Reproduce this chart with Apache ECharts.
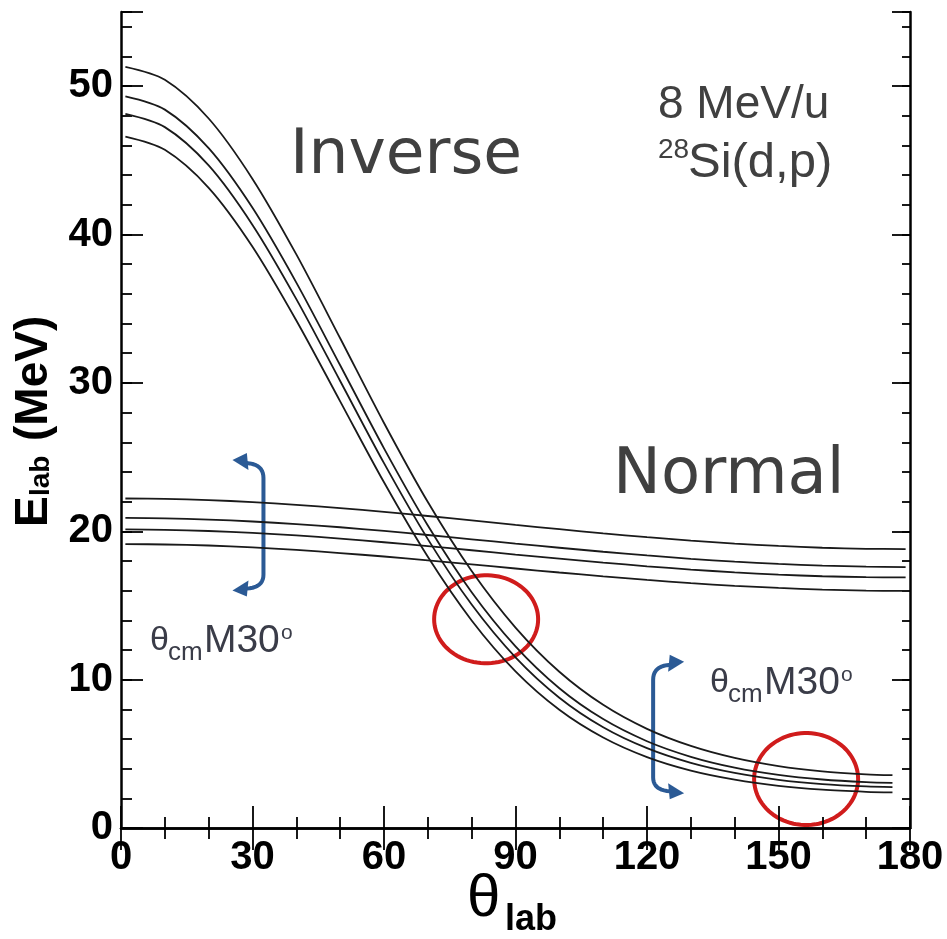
<!DOCTYPE html>
<html><head><meta charset="utf-8">
<script src="https://cdn.jsdelivr.net/npm/echarts@6/dist/echarts.min.js"></script>
<style>html,body{margin:0;padding:0;background:#fff}#c{width:947px;height:939px}</style>
</head><body><div id="c"></div>
<script>
// ---- data ----
const thetaInv = [1, 10, 20, 30, 40, 50, 60, 70, 80, 90, 100, 110, 120, 130, 140, 150, 160, 170, 176];
const inverse1 = [51.30, 50.43, 47.82, 43.75, 38.66, 33.01, 27.30, 21.97, 17.32, 13.51, 10.53, 8.30, 6.68, 5.53, 4.72, 4.17, 3.82, 3.62, 3.56];
const inverse2 = [49.31, 48.42, 45.82, 41.80, 36.76, 31.19, 25.59, 20.39, 15.89, 12.24, 9.42, 7.34, 5.85, 4.80, 4.07, 3.58, 3.27, 3.09, 3.04];
const inverse3 = [48.13, 47.24, 44.66, 40.65, 35.65, 30.13, 24.59, 19.47, 15.06, 11.50, 8.78, 6.79, 5.38, 4.39, 3.71, 3.25, 2.96, 2.80, 2.76];
const inverse4 = [46.60, 45.71, 43.15, 39.18, 34.21, 28.76, 23.30, 18.28, 13.99, 10.56, 7.97, 6.10, 4.78, 3.87, 3.26, 2.84, 2.58, 2.44, 2.40];

const thetaNorm = [1, 10, 20, 30, 40, 50, 60, 70, 80, 90, 100, 110, 120, 130, 140, 150, 160, 170, 179];
const normal1 = [22.21, 22.18, 22.10, 21.97, 21.78, 21.56, 21.31, 21.03, 20.73, 20.43, 20.14, 19.86, 19.60, 19.37, 19.17, 19.01, 18.89, 18.82, 18.80];
const normal2 = [20.90, 20.87, 20.79, 20.66, 20.48, 20.27, 20.02, 19.75, 19.46, 19.17, 18.89, 18.62, 18.37, 18.14, 17.95, 17.80, 17.68, 17.62, 17.59];
const normal3 = [20.13, 20.10, 20.02, 19.89, 19.72, 19.51, 19.26, 19.00, 18.72, 18.43, 18.16, 17.89, 17.64, 17.42, 17.23, 17.08, 16.97, 16.91, 16.89];
const normal4 = [19.14, 19.11, 19.04, 18.91, 18.74, 18.53, 18.30, 18.04, 17.77, 17.49, 17.22, 16.96, 16.72, 16.50, 16.32, 16.18, 16.07, 16.00, 15.98];

const xTickLabels = [0, 30, 60, 90, 120, 150, 180];
const yTickLabels = [0, 10, 20, 30, 40, 50];

// ---- chart ----
const chart = echarts.init(document.getElementById('c'), null, {renderer: 'canvas'});
const tickFont = "'Liberation Sans',Arial,sans-serif";
const lineStyle = {color: '#1a1a1a', width: 1.8};
const mk = (th, v) => th.map((t, i) => [t, v[i]]);
const series = [inverse1, inverse2, inverse3, inverse4].map(v => ({
  type: 'line', data: mk(thetaInv, v), smooth: 0.3, showSymbol: false, symbol: 'none', lineStyle, silent: true
})).concat([normal1, normal2, normal3, normal4].map(v => ({
  type: 'line', data: mk(thetaNorm, v), smooth: 0.3, showSymbol: false, symbol: 'none', lineStyle, silent: true
})));

const axLine = {show: true, lineStyle: {color: '#000', width: 2.5}};
const tickStyle = {color: '#000', width: 1.8};
const labelStyle = {fontFamily: tickFont, fontWeight: 'bold', fontSize: 40, color: '#000'};

chart.setOption({
  animation: false,
  grid: {left: 121, right: 37, top: 12, bottom: 111, containLabel: false, outerBoundsMode: 'none'},
  xAxis: [
    {type: 'value', min: 0, max: 180, interval: 30, position: 'bottom', axisLine: axLine,
     axisTick: {show: true, inside: true, length: 22, lineStyle: tickStyle},
     minorTick: {show: true, splitNumber: 3, length: 11, lineStyle: tickStyle},
     splitLine: {show: false}, minorSplitLine: {show: false},
     axisLabel: Object.assign({margin: 10, formatter: v => xTickLabels.includes(v) ? String(v) : ''}, labelStyle)},
    {type: 'value', min: 0, max: 180, interval: 30, position: 'top', axisLine: axLine,
     axisTick: {show: true, inside: true, length: 22, lineStyle: tickStyle},
     minorTick: {show: true, splitNumber: 3, length: 11, lineStyle: tickStyle},
     splitLine: {show: false}, axisLabel: {show: false}}
  ],
  yAxis: [
    {type: 'value', min: 0, max: 55, interval: 10, position: 'left', axisLine: axLine,
     axisTick: {show: true, inside: true, length: 22, lineStyle: tickStyle},
     splitLine: {show: false},
     axisLabel: Object.assign({margin: 8, formatter: v => yTickLabels.includes(v) ? String(v) : ''}, labelStyle)},
    {type: 'value', min: 0, max: 55, interval: 2, position: 'left', axisLine: {show: false},
     axisTick: {show: true, inside: true, length: 11, lineStyle: tickStyle},
     splitLine: {show: false}, axisLabel: {show: false}},
    {type: 'value', min: 0, max: 55, interval: 10, position: 'right', axisLine: axLine,
     axisTick: {show: true, inside: true, length: 18, lineStyle: tickStyle},
     splitLine: {show: false}, axisLabel: {show: false}},
    {type: 'value', min: 0, max: 55, interval: 2, position: 'right', axisLine: {show: false},
     axisTick: {show: true, inside: true, length: 8, lineStyle: tickStyle},
     splitLine: {show: false}, axisLabel: {show: false}}
  ],
  series
});

// ---- annotations (anchored in data coordinates) ----
const P = (x, y) => chart.convertToPixel({gridIndex: 0}, [x, y]);
const annFont = "'Liberation Sans',Arial,sans-serif";
const bigFont = "'DejaVu Sans',sans-serif";
const txtCol = '#404040';
const g = [];
function txt(x, y, text, font, fill, align) {
  return {type: 'text', x, y, silent: true,
    style: {text, font, fill: fill || txtCol, align: align || 'left', verticalAlign: 'middle'}};
}
let p;
p = P(38.56, 45.28); g.push(txt(p[0], p[1], 'Inverse', "63px " + bigFont));
p = P(112.25, 23.72); g.push(txt(p[0], p[1], 'Normal', "64px " + bigFont));
p = P(122.5, 48.72); g.push(txt(p[0], p[1], '8 MeV/u', "46px " + annFont));
p = P(122.5, 44.81); g.push(txt(p[0], p[1] - 13, '28', "28px " + annFont));
g.push(txt(p[0] + 30, p[1], 'Si(d,p)', "49px " + annFont));

function thetaLabel(ax, ay) {
  const q = P(ax, ay), col = '#3a3c48';
  g.push(txt(q[0], q[1], 'θ', "34px " + annFont, col));
  g.push(txt(q[0] + 18, q[1] + 12, 'cm', "26px " + annFont, col));
  g.push(txt(q[0] + 54, q[1], 'M30', "39px " + annFont, col));
  g.push(txt(q[0] + 131, q[1] - 8, 'o', "21px " + annFont, col));
}
thetaLabel(6.6, 12.6);
thetaLabel(134.4, 9.77);

const blue = '#2b5a95';
function quad(p0, c, p1, n) {
  const pts = [];
  for (let i = 0; i <= n; i++) {
    const t = i / n, u = 1 - t;
    pts.push([u * u * p0[0] + 2 * u * t * c[0] + t * t * p1[0], u * u * p0[1] + 2 * u * t * c[1] + t * t * p1[1]]);
  }
  return pts;
}
function bracketArrow(ax, yTopVal, yBotVal, d) {
  const a = P(ax, yTopVal), b = P(ax, yBotVal);
  const xv = a[0], yT = a[1], yB = b[1];
  const pts = quad([xv + d * 17, yT + 3], [xv, yT + 4], [xv, yT + 18], 10)
    .concat(quad([xv, yB - 16], [xv, yB - 3], [xv + d * 17, yB - 2], 10));
  g.push({type: 'polyline', silent: true, shape: {points: pts},
    style: {stroke: blue, lineWidth: 4, fill: null, lineJoin: 'round'}});
  g.push({type: 'polygon', silent: true,
    shape: {points: [[xv + d * 31, yT], [xv + d * 16.6, yT - 7], [xv + d * 15, yT + 10]]}, style: {fill: blue}});
  g.push({type: 'polygon', silent: true,
    shape: {points: [[xv + d * 31, yB], [xv + d * 15, yB - 10], [xv + d * 16.6, yB + 6]]}, style: {fill: blue}});
}
bracketArrow(32.5, 24.8, 16.0, -1);
bracketArrow(121.4, 11.2, 2.34, 1);

function ell(cxv, cyv, rx, ry) {
  const c = P(cxv, cyv), pts = [];
  for (let i = 0; i < 90; i++) {
    const a = i / 90 * 2 * Math.PI;
    pts.push([c[0] + rx * Math.cos(a), c[1] + ry * Math.sin(a)]);
  }
  g.push({type: 'polygon', silent: true, shape: {points: pts},
    style: {stroke: '#d01c1c', lineWidth: 4, fill: null}});
}
ell(83.3, 14.07, 52, 44);
ell(156.3, 3.3, 52, 46);

// axis titles
const xt = P(83.5, 0);
g.push(txt(xt[0] - 20, 899, 'θ', "60px " + tickFont, '#000'));
g.push(txt(xt[0] + 18, 920, 'lab', "bold 36px " + tickFont, '#000'));
g.push({type: 'group', x: 50, y: 527, rotation: Math.PI / 2, silent: true, children: [
  txt(0, -16, 'E', "bold 46px " + tickFont, '#000'),
  txt(31, -9, 'lab', "bold 28px " + tickFont, '#000'),
  txt(86, -16, '(MeV)', "bold 46px " + tickFont, '#000')
]});

chart.setOption({graphic: g});
</script></body></html>
